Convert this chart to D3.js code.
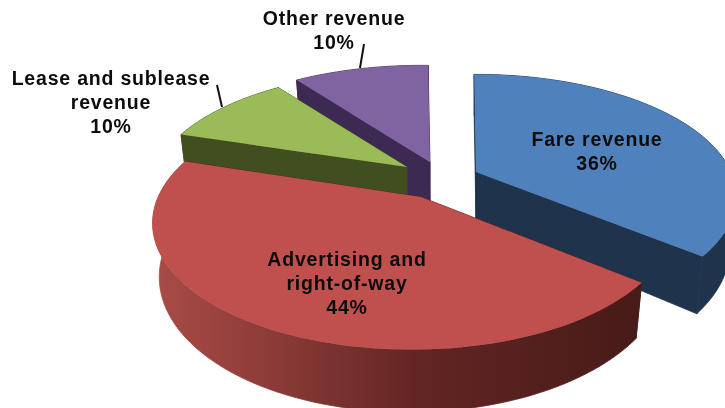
<!DOCTYPE html>
<html>
<head>
<meta charset="utf-8">
<script src="https://cdn.jsdelivr.net/npm/d3@7/dist/d3.min.js"></script>
<style>
html,body{margin:0;padding:0;background:#fff;overflow:hidden}
svg{display:block}
text{font-family:"Liberation Sans",Arial,sans-serif;font-weight:700;font-size:19.5px;fill:#0c0c0c;text-anchor:middle;letter-spacing:.8px}
</style>
</head>
<body>
<svg id="chart" width="725" height="408"></svg>
<script>
// --- data ---
const categories = ["Fare revenue", "Advertising and right-of-way", "Lease and sublease revenue", "Other revenue"];
const shares = [36, 44, 10, 10];
const labelLines = [["Fare revenue", "36%"], ["Advertising and", "right-of-way", "44%"], ["Lease and sublease", "revenue", "10%"], ["Other revenue", "10%"]];

// --- styles and layout ---
const topColors = ["#4f81bd", "#c0504d", "#9bbb59", "#8064a2"];
const sideColors = ["#1f334d", "url(#redSide)", "#414f20", "#3c2a52"];
const faceColors = ["#1f334d", "#5a2320", "#414f20", "#3c2a52"];
const apexes = [[476, 172], [421, 197], [407, 167], [430, 162]];
const scaleX = [1, 1, 0.985, 1];
const scaleY = [0.96, 1, 0.94, 0.95];
const lateral = [0, 0.03, 0, 0.04];
const labelCentres = [[597, 139], [347, 259], [111, 78], [334, 18]];
const leaders = [null, null, [[217, 85], [222, 107]], [[364, 44], [360, 68]]];
const drawOrder = [3, 2, 0, 1];
const R = 255, RY = 122, P = 0.2, DEPTH = 50, SHRINK = 0.975, START = -0.5 * Math.PI / 180, LINE = 24;

const svg = d3.select("#chart");
const grad = svg.append("defs").append("linearGradient")
  .attr("id", "redSide").attr("gradientUnits", "userSpaceOnUse")
  .attr("x1", 150).attr("x2", 640).attr("y1", 0).attr("y2", 0);
[[0, "#ab4c47"], [0.25, "#8b3b37"], [0.55, "#622523"], [1, "#471b18"]].forEach(([o, c]) =>
  grad.append("stop").attr("offset", o).attr("stop-color", c));

const pie = d3.pie().sort(null).startAngle(START).endAngle(START + 2 * Math.PI);
const arcs = pie(shares);
const line = d3.line();

function project(i, r, a, lower) {
  const apex = apexes[i];
  const u = r * Math.sin(a), v = r * Math.cos(a), w = 1 / (1 + P * v + lateral[i] * u);
  const k = lower ? SHRINK : 1;
  return [apex[0] + u * R * w * k * scaleX[i], apex[1] - v * RY * w * scaleY[i] + (lower ? DEPTH * w : 0)];
}
function rim(i, a0, a1, lower) {
  return d3.range(0, 81).map(n => project(i, 1, a0 + (a1 - a0) * n / 80, lower));
}

const g = svg.append("g").style("filter", "blur(0.55px)");
drawOrder.forEach(i => {
  const d = arcs[i];
  const topApex = project(i, 0, 0, false), botApex = project(i, 0, 0, true);
  [d.startAngle, d.endAngle].forEach(a => {
    g.append("path").attr("fill", faceColors[i]).attr("stroke", faceColors[i]).attr("stroke-width", 0.8)
      .attr("d", line([topApex, project(i, 1, a, false), project(i, 1, a, true), botApex]) + "Z");
  });
  g.append("path").attr("fill", sideColors[i]).attr("stroke", sideColors[i]).attr("stroke-width", 0.8)
    .attr("d", line(rim(i, d.startAngle, d.endAngle, false).concat(rim(i, d.endAngle, d.startAngle, true))) + "Z");
  g.append("path").attr("fill", topColors[i])
    .attr("d", line([topApex].concat(rim(i, d.startAngle, d.endAngle, false))) + "Z");
});

leaders.forEach(l => {
  if (l) g.append("path").attr("d", line(l)).attr("fill", "none").attr("stroke", "#111").attr("stroke-width", 2);
});

const t = svg.append("g").style("filter", "blur(0.4px)");
labelLines.forEach((lines, i) => {
  lines.forEach((s, j) => {
    t.append("text").attr("x", labelCentres[i][0]).attr("y", labelCentres[i][1] + j * LINE)
      .attr("dy", "0.36em").text(s);
  });
});
</script>
</body>
</html>
